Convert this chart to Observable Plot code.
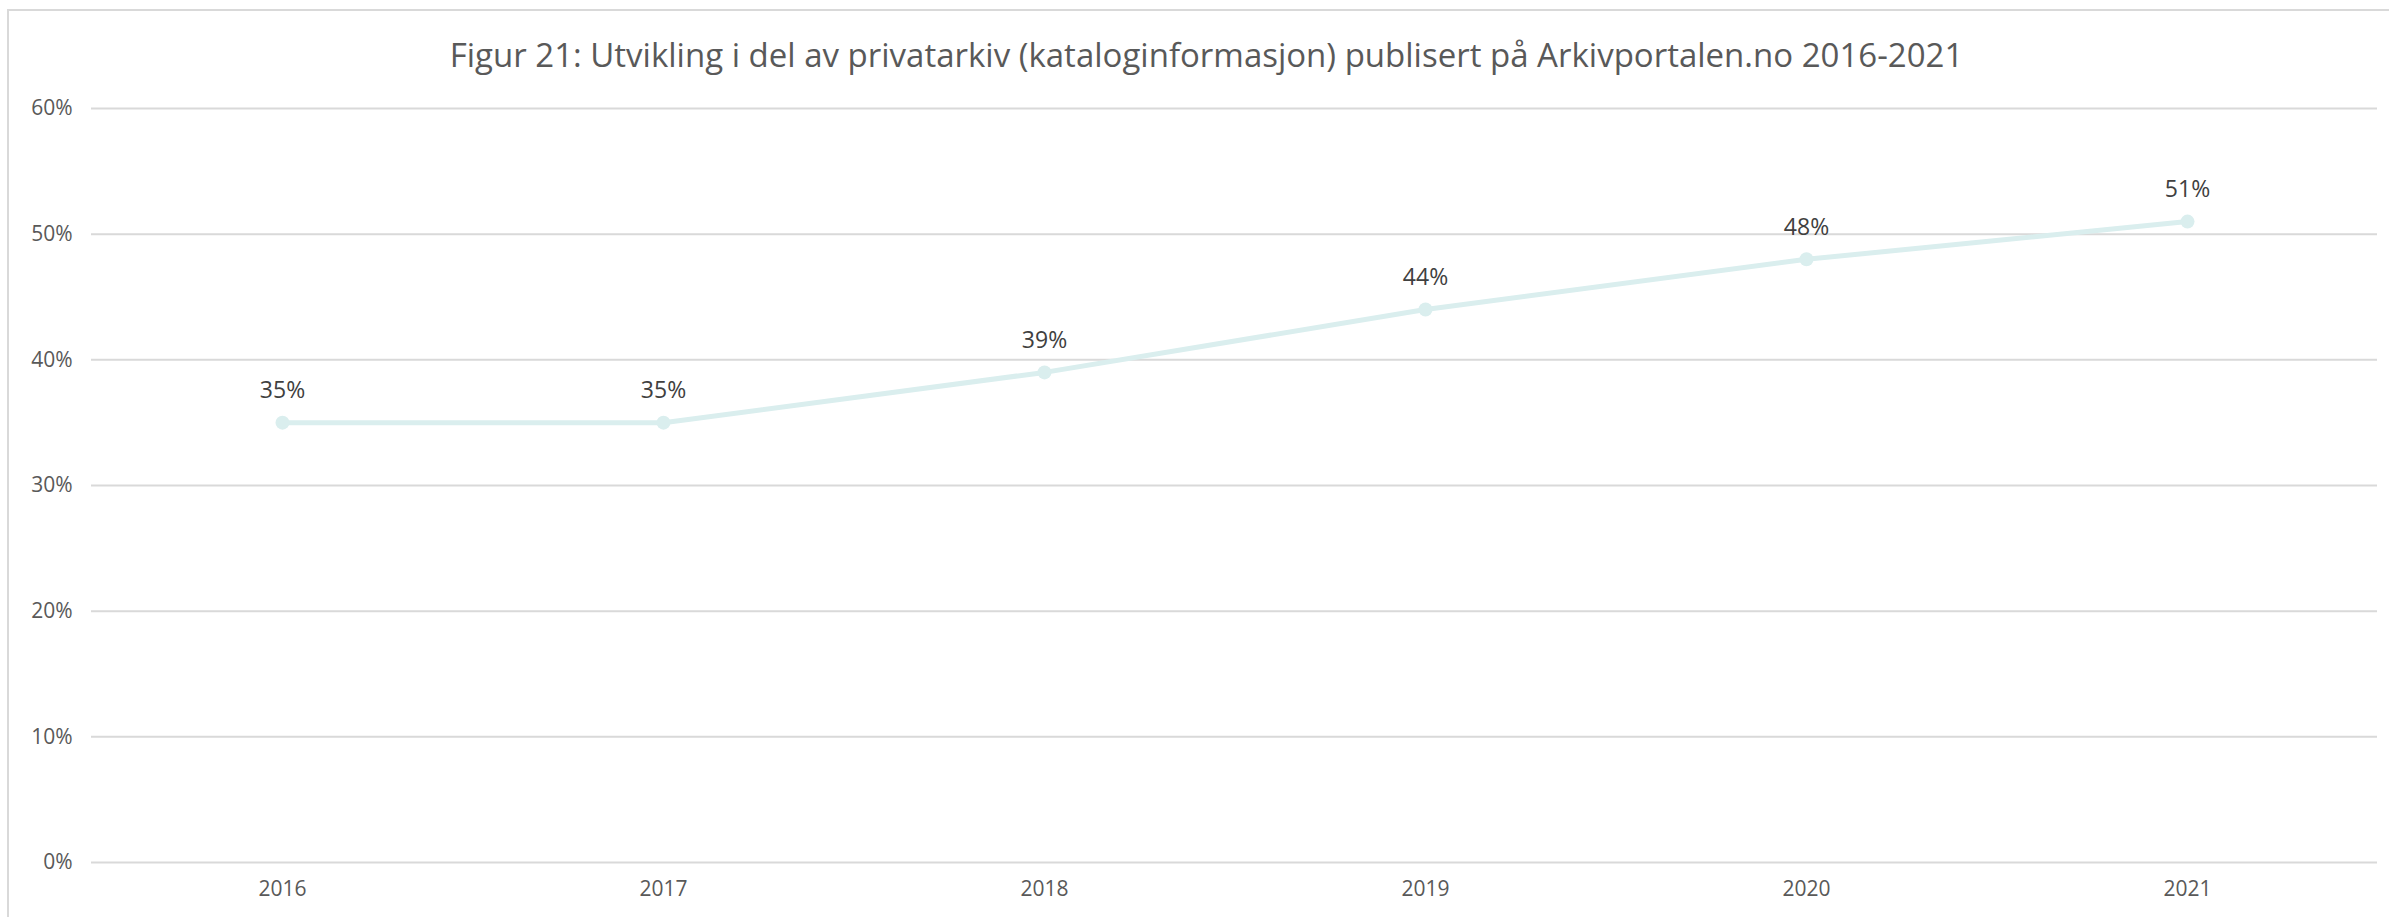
<!DOCTYPE html>
<html>
<head>
<meta charset="utf-8">
<script src="https://cdn.jsdelivr.net/npm/d3@7"></script>
<script src="https://cdn.jsdelivr.net/npm/@observablehq/plot@0.6"></script>
<style>
  html, body { margin: 0; padding: 0; background: #fff; }
  #wrap { position: relative; width: 2389px; height: 917px; overflow: hidden; }
  #frame { position: absolute; left: 7px; top: 9px; width: 2400px; height: 920px; border: 2px solid #d9d9d9; box-sizing: border-box; }
  #title { position: absolute; left: 12px; top: 0; width: 2389px; height: 80px; box-sizing: border-box;
           font-family: "Open Sans", sans-serif; font-size: 33px; color: #595959; text-align: center; line-height: 110px; }
  #chart { position: absolute; left: 0; top: 80px; }
</style>
</head>
<body>
<div id="wrap">
  <div id="frame"></div>
  <div id="title">Figur 21: Utvikling i del av privatarkiv (kataloginformasjon) publisert på Arkivportalen.no 2016-2021</div>
  <div id="chart"></div>
</div>
<script>
const years = ["2016", "2017", "2018", "2019", "2020", "2021"];
const shares = [0.35, 0.35, 0.39, 0.44, 0.48, 0.51];
const yTicks = [0, 0.1, 0.2, 0.3, 0.4, 0.5, 0.6];

const data = years.map((y, i) => ({year: y, value: shares[i]}));
const pct = d3.format(".0%");

const chart = Plot.plot({
  width: 2389,
  height: 837,
  marginLeft: 91,
  marginRight: 12,
  marginTop: 28,
  marginBottom: 55,
  style: { fontFamily: "Open Sans, sans-serif", fontSize: "21px", color: "#595959", background: "transparent" },
  x: { type: "point", domain: years, padding: 0.5, label: null },
  y: { domain: [0, 0.6], ticks: yTicks, label: null },
  marks: [
    Plot.ruleY(yTicks, { stroke: "#d9d9d9", strokeWidth: 2 }),
    Plot.axisY({ ticks: yTicks, tickSize: 0, tickPadding: 19, tickFormat: pct, fill: "#595959", fontSize: 21 }),
    Plot.axisX({ tickSize: 0, tickPadding: 19, fill: "#595959", fontSize: 21 }),
    Plot.line(data, { x: "year", y: "value", stroke: "#daeeee", strokeWidth: 5 }),
    Plot.dot(data, { x: "year", y: "value", r: 7, fill: "#daeeee" }),
    Plot.text(data, { x: "year", y: "value", text: d => pct(d.value), dy: -32, fill: "#404040", fontSize: 23 })
  ]
});
document.getElementById("chart").appendChild(chart);
</script>
</body>
</html>
